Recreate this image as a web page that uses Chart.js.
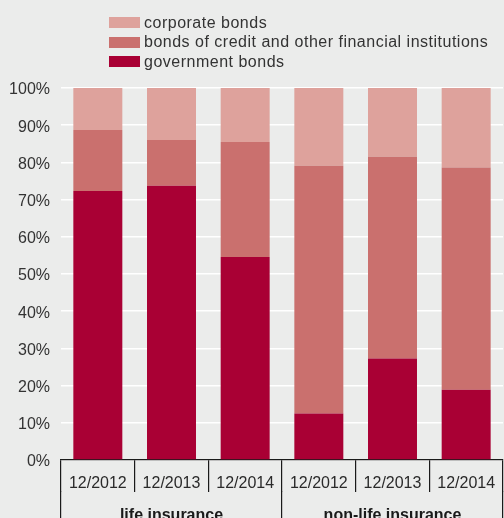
<!DOCTYPE html>
<html>
<head>
<meta charset="utf-8">
<script src="https://cdn.jsdelivr.net/npm/chart.js@4.4.1/dist/chart.umd.min.js"></script>
<style>
  html, body { margin: 0; padding: 0; overflow: hidden; background: #ebeceb; width: 504px; height: 518px; }
  #wrap { position: absolute; left: 0; top: 0; width: 504px; height: 522px; }
  #legend { position: absolute; left: 109px; top: 13px; font: 16px "Liberation Sans", Arial, sans-serif; letter-spacing: 0.5px; color: #333; }
  #legend .item { display: flex; align-items: center; height: 19.5px; white-space: nowrap; }
  #legend .box { width: 31px; height: 11px; margin-right: 4px; flex: none; }
</style>
</head>
<body>
<div id="wrap"><canvas id="c"></canvas></div>
<div id="legend"></div>
<script>
// Periods on the lower axis, sector groups underneath
const periods = ['12/2012', '12/2013', '12/2014', '12/2012', '12/2013', '12/2014'];
const groups = ['life insurance', 'non-life insurance'];

// Share of each bond type in the portfolio (%)
const governmentBonds = [72.3, 73.7, 54.6, 12.5, 27.3, 18.9];
const creditInstitutionBonds = [16.4, 12.3, 30.9, 66.6, 54.2, 59.7];
const corporateBonds = [11.3, 14.0, 14.5, 20.9, 18.5, 21.4];

const seriesNames = ['government bonds', 'bonds of credit and other financial institutions', 'corporate bonds'];
const seriesColors = ['#a90034', '#ca706e', '#dea29c'];

Chart.defaults.font.family = '"Liberation Sans", Arial, sans-serif';
Chart.defaults.font.size = 16;
Chart.defaults.color = '#333';

const seriesValues = [governmentBonds, creditInstitutionBonds, corporateBonds];

const chart = new Chart(document.getElementById('c'), {
  type: 'bar',
  data: {
    labels: periods,
    datasets: seriesValues.map((vals, i) => ({
      label: seriesNames[i],
      data: vals,
      backgroundColor: seriesColors[i],
      borderWidth: 0,
      barPercentage: 0.665,
      categoryPercentage: 1
    }))
  },
  options: {
    responsive: true,
    maintainAspectRatio: false,
    animation: false,
    layout: { padding: { top: 88, left: 0, right: 1, bottom: 0 } },
    plugins: { legend: { display: false }, tooltip: { enabled: false } },
    scales: {
      y: {
        stacked: true,
        min: 0,
        max: 100,
        ticks: { stepSize: 10, padding: 11, labelOffset: 2, color: '#333', callback: v => v + '%' },
        grid: { color: '#ffffff', lineWidth: 1.5, drawTicks: false },
        border: { display: false },
        afterFit: s => { s.width = 61; }
      },
      x: {
        stacked: true,
        weight: 0,
        grid: { display: true, drawOnChartArea: false, drawTicks: true, tickLength: 32, offset: true, color: '#1a1a1a', lineWidth: 1.2 },
        border: { display: true, color: '#1a1a1a', width: 1.2 },
        ticks: { padding: -18, color: '#2a2a2a', maxRotation: 0, autoSkip: false },
        afterFit: s => { s.height = 31; }
      },
      x2: {
        type: 'category',
        labels: groups,
        position: 'bottom',
        weight: 1,
        offset: true,
        grid: { display: true, drawOnChartArea: false, drawTicks: true, tickLength: 31, offset: true, color: '#1a1a1a', lineWidth: 1.2 },
        border: { display: false },
        ticks: { padding: -16, color: '#1a1a1a', font: { weight: 'bold' }, maxRotation: 0, autoSkip: false },
        afterFit: s => { s.height = 31; }
      }
    }
  }
});

// Legend listed top-down in reverse stacking order
const legendEl = document.getElementById('legend');
chart.data.datasets.slice().reverse().forEach(ds => {
  const item = document.createElement('div');
  item.className = 'item';
  const box = document.createElement('span');
  box.className = 'box';
  box.style.background = ds.backgroundColor;
  const txt = document.createElement('span');
  txt.textContent = ds.label;
  item.appendChild(box);
  item.appendChild(txt);
  legendEl.appendChild(item);
});
</script>
</body>
</html>
